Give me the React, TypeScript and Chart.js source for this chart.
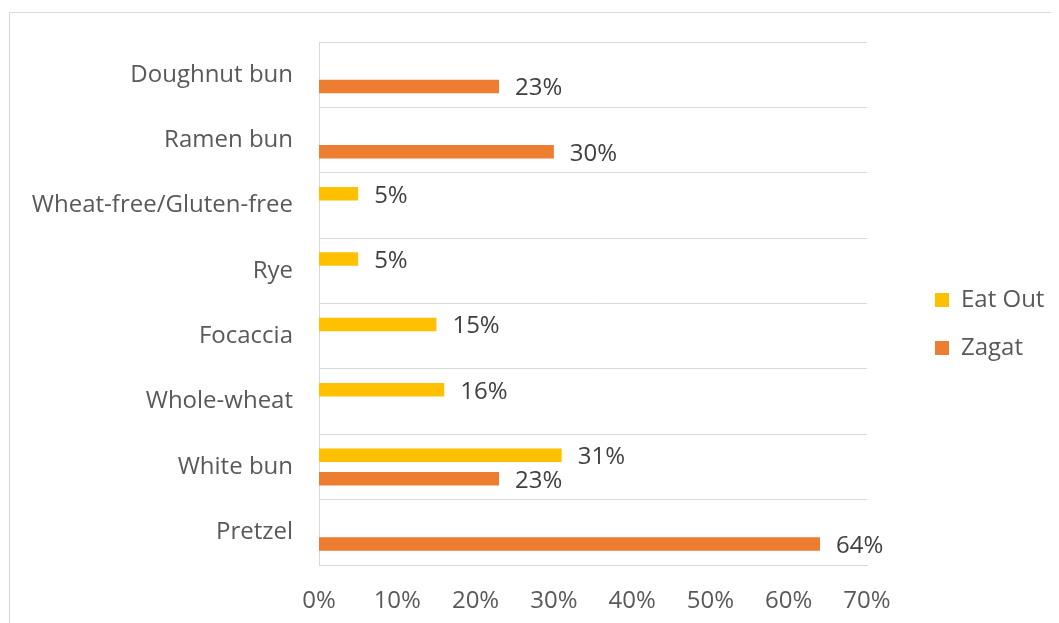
import React, { useEffect, useRef } from "react";
import { Chart, registerables } from "chart.js";

Chart.register(...registerables);

const categories = [
  "Doughnut bun",
  "Ramen bun",
  "Wheat-free/Gluten-free",
  "Rye",
  "Focaccia",
  "Whole-wheat",
  "White bun",
  "Pretzel",
];
const eatOutValues = [null, null, 5, 5, 15, 16, 31, null];
const zagatValues = [23, 30, null, null, null, null, 23, 64];
const seriesNames = ["Eat Out", "Zagat"];
const xMin = 0;
const xMax = 70;
const xStep = 10;

const FONT = "'Open Sans', 'DejaVu Sans', sans-serif";
const LABEL_SIZE = 24;

const valueLabels = {
  id: "valueLabels",
  afterDatasetsDraw(chart: any) {
    const ctx = chart.ctx;
    ctx.save();
    ctx.font = `${LABEL_SIZE}px ${FONT}`;
    ctx.fillStyle = "#404040";
    ctx.textBaseline = "middle";
    ctx.textAlign = "left";
    chart.data.datasets.forEach((ds: any, i: number) => {
      const meta = chart.getDatasetMeta(i);
      meta.data.forEach((bar: any, j: number) => {
        const v = ds.data[j];
        if (v == null) return;
        ctx.fillText(`${v}%`, bar.x + 16, bar.y + 2);
      });
    });
    ctx.restore();
  },
};

const legendPlace = {
  id: "legendPlace",
  afterInit(chart: any) {
    const lg = chart.legend;
    if (!lg || lg.__wrapped) return;
    const orig = lg.fit.bind(lg);
    lg.fit = () => {
      orig();
      lg.width = 192;
    };
    lg.__wrapped = true;
  },
  afterLayout(chart: any) {
    const lg = chart.legend;
    if (!lg) return;
    const target = 927; // left edge of legend swatches (canvas px)
    const pad = lg.options.labels.padding;
    const dx = target - pad - lg.left;
    lg.left += dx;
    lg.right += dx;
    const h = lg.bottom - lg.top;
    const mid = 316;
    lg.top = mid - h / 2;
    lg.bottom = mid + h / 2;
  },
};

export default function App() {
  const ref = useRef<HTMLCanvasElement | null>(null);
  useEffect(() => {
    if (!ref.current) return;
    const chart = new Chart(ref.current, {
      type: "bar",
      data: {
        labels: categories,
        datasets: [
          {
            label: seriesNames[0],
            data: eatOutValues,
            backgroundColor: "#FFC000",
            categoryPercentage: 0.72,
            barPercentage: 0.57,
          },
          {
            label: seriesNames[1],
            data: zagatValues,
            backgroundColor: "#ED7D31",
            categoryPercentage: 0.72,
            barPercentage: 0.57,
          },
        ],
      },
      options: {
        indexAxis: "y",
        responsive: false,
        animation: false,
        devicePixelRatio: 1,
        layout: { padding: { top: 34, bottom: 6, left: 0, right: 0 } },
        scales: {
          x: {
            min: xMin,
            max: xMax,
            ticks: {
              stepSize: xStep,
              callback: (v: any) => `${v}%`,
              color: "#595959",
              font: { family: FONT, size: LABEL_SIZE },
              padding: 22,
              maxRotation: 0,
            },
            grid: { display: false, drawTicks: false },
            border: { display: true, color: "#d9d9d9" },
            afterFit: (s: any) => {
              s.height = 52;
              s.paddingLeft = 0;
              s.paddingRight = 0;
            },
          },
          y: {
            ticks: {
              color: "#595959",
              font: { family: FONT, size: LABEL_SIZE },
              padding: 26,
            },
            grid: {
              display: true,
              offset: true,
              color: "#d9d9d9",
              drawTicks: false,
            },
            border: { display: true, color: "#d9d9d9" },
            afterFit: (s: any) => {
              s.width = 311;
              s.paddingTop = 0;
              s.paddingBottom = 0;
            },
          },
        },
        plugins: {
          legend: {
            position: "right",
            align: "center",
            labels: {
              boxWidth: 14,
              boxHeight: 14,
              padding: 24,
              color: "#595959",
              font: { family: FONT, size: LABEL_SIZE },
            },
          },
          tooltip: { enabled: false },
        },
      },
      plugins: [valueLabels, legendPlace],
    });
    return () => chart.destroy();
  }, []);

  return (
    <div style={{ position: "relative", width: 1051, height: 615, overflow: "hidden" }}>
      <div
        style={{
          position: "absolute",
          left: 1,
          top: 4,
          width: 1200,
          height: 800,
          border: "1px solid #d9d9d9",
        }}
      />
      <canvas
        ref={ref}
        width={1051}
        height={615}
        style={{ position: "absolute", left: 0, top: 0, width: 1051, height: 615 }}
      />
    </div>
  );
}
